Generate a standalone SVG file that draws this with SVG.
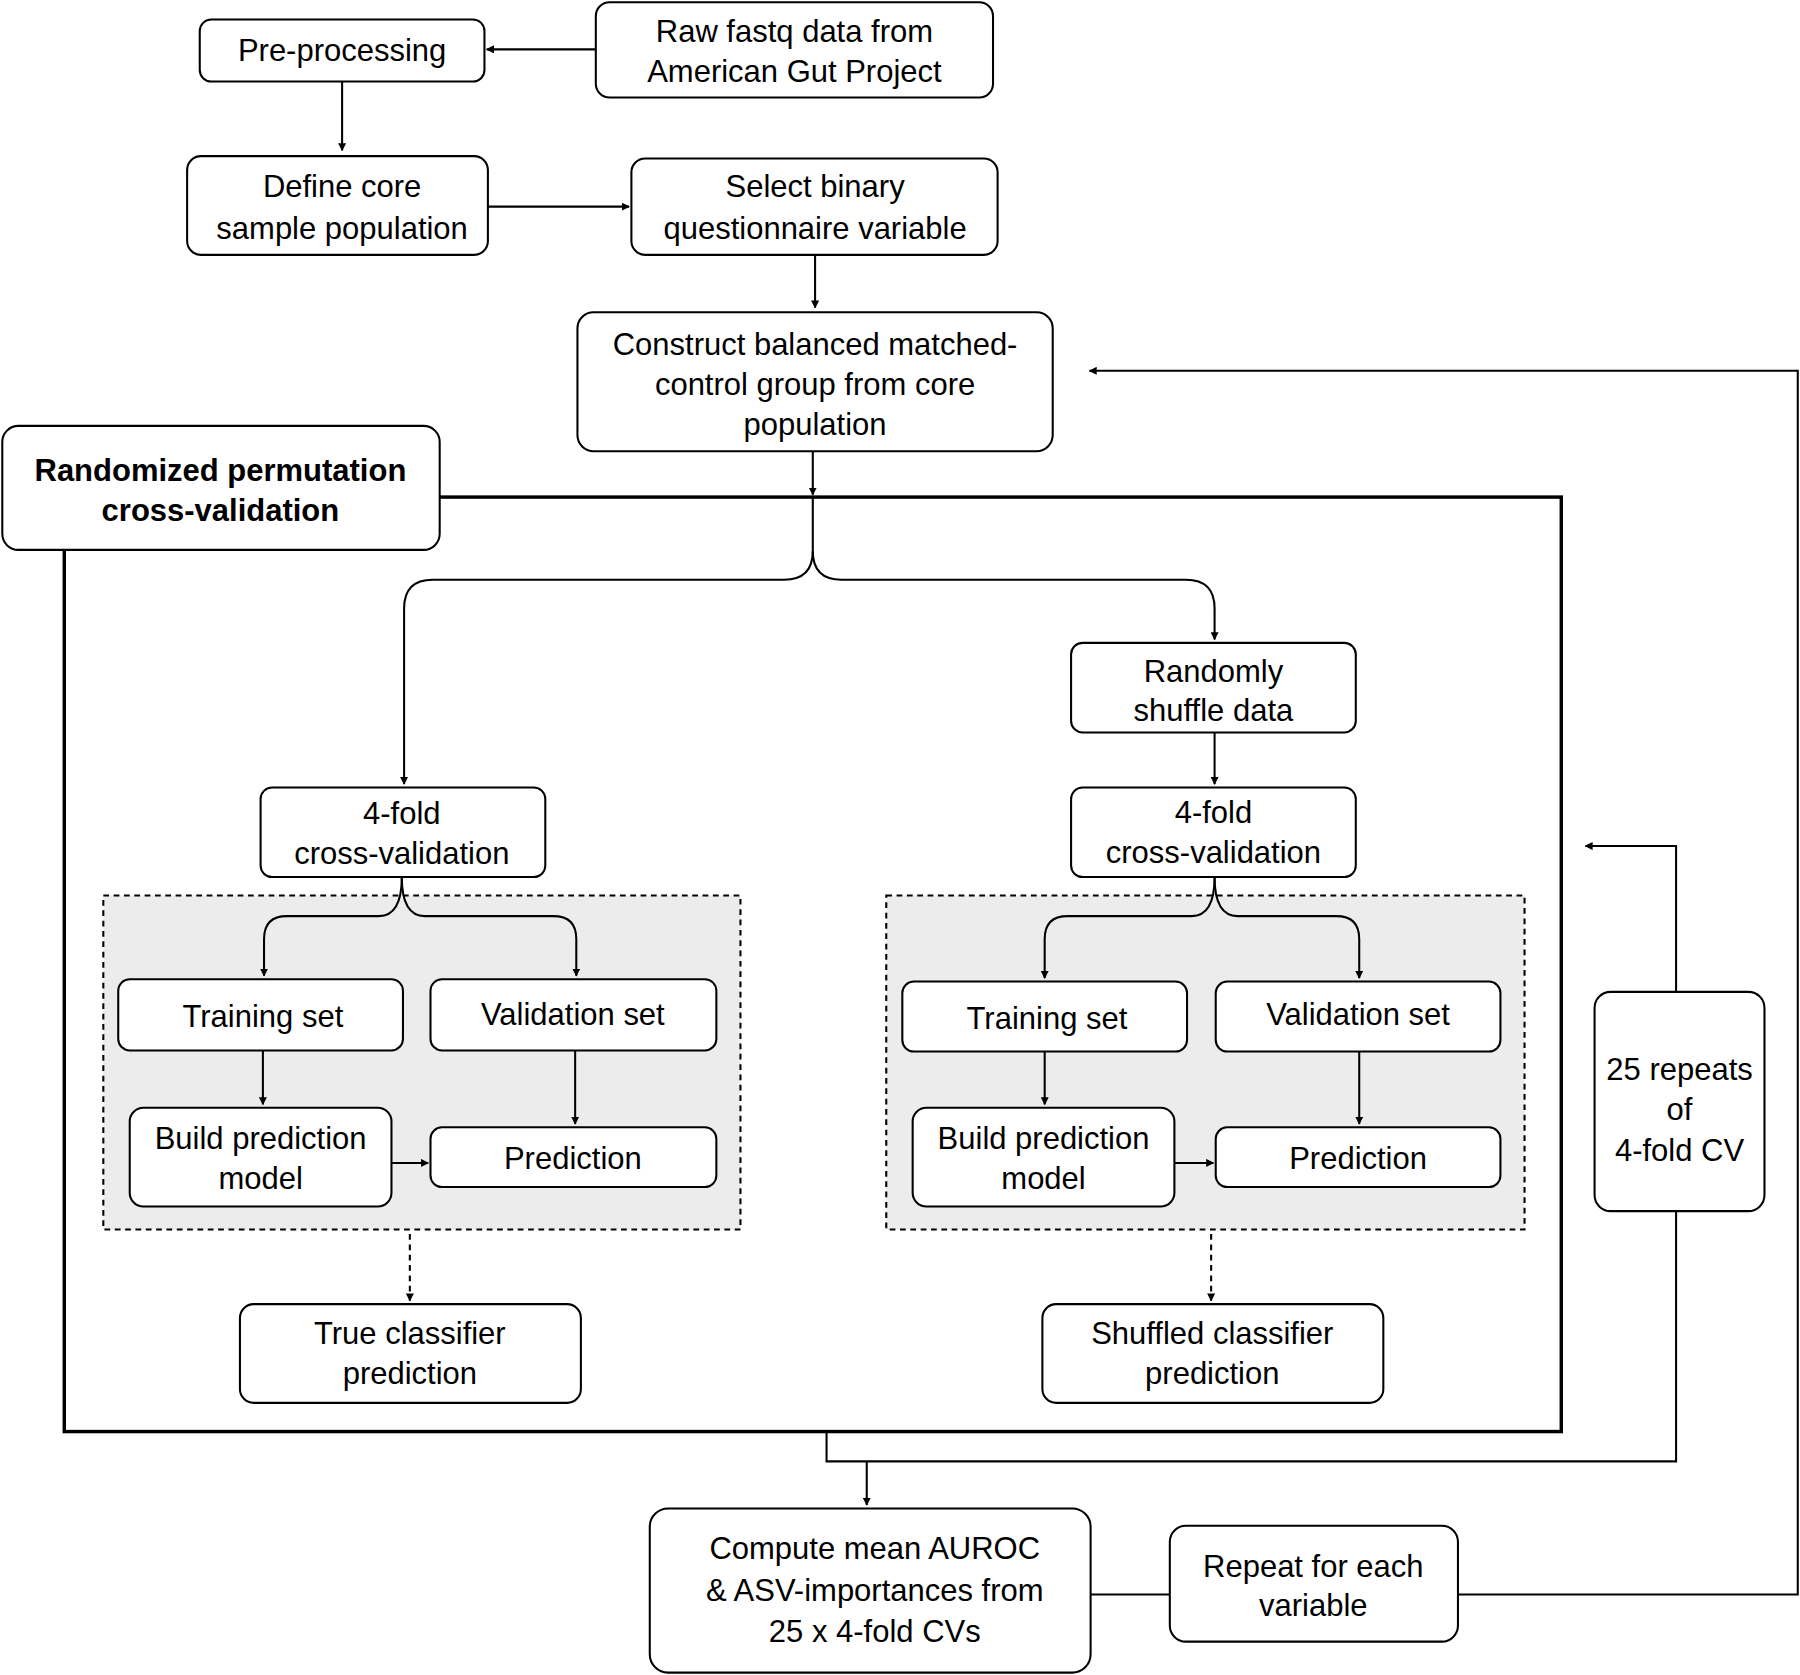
<svg xmlns="http://www.w3.org/2000/svg" width="1800" height="1675" viewBox="0 0 1800 1675">
<defs>
<marker id="ah" viewBox="0 0 10 10" refX="9" refY="5" markerWidth="7" markerHeight="7" orient="auto" markerUnits="userSpaceOnUse"><path d="M0,0 L10,5 L0,10 z" fill="#000"/></marker>
<style>
.n{fill:#fff;stroke:#000;stroke-width:1.8}
.t{font-family:"Liberation Sans",Arial,sans-serif;font-size:27px;text-anchor:middle;fill:#000}
.b{font-weight:bold}
.c{fill:none;stroke:#000;stroke-width:1.8}
.a{marker-end:url(#ah)}
.d{stroke-dasharray:5,4}
.g{fill:#ececec;stroke:#000;stroke-width:1.8;stroke-dasharray:5,4}
</style>
</defs>
<rect width="1800" height="1675" fill="#fff"/>
<g transform="scale(1.148)">
<rect x="56" y="433" width="1304" height="814" fill="none" stroke="#000" stroke-width="3"/>
<rect class="g" x="90" y="780" width="555" height="291"/>
<rect class="g" x="772" y="780" width="556" height="291"/>
<g id="connectors">
<path class="c a" d="M519,43 H424"/>
<path class="c a" d="M298,71 V131"/>
<path class="c a" d="M425,180 H548"/>
<path class="c a" d="M710,222 V268"/>
<path class="c a" d="M708,393 V431"/>
<path class="c a" d="M708,433 V480 Q708,505 683,505 H377 Q352,505 352,530 V683"/>
<path class="c a" d="M708,480 Q708,505 733,505 H1033 Q1058,505 1058,530 V557"/>
<path class="c a" d="M1058,638 V683"/>
<path class="c a" d="M350,764 Q350,798 330,798 H250 Q230,798 230,818 V850"/>
<path class="c a" d="M350,764 Q350,798 370,798 H482 Q502,798 502,818 V850"/>
<path class="c a" d="M1058,764 Q1058,798 1038,798 H930 Q910,798 910,818 V852"/>
<path class="c a" d="M1058,764 Q1058,798 1078,798 H1164 Q1184,798 1184,818 V852"/>
<path class="c a" d="M229,915 V962"/>
<path class="c a" d="M501,915 V979"/>
<path class="c a" d="M341,1013 H373"/>
<path class="c a" d="M910,916 V962"/>
<path class="c a" d="M1184,916 V979"/>
<path class="c a" d="M1023,1013 H1057"/>
<path class="c a d" d="M357,1075 V1133"/>
<path class="c a d" d="M1055,1075 V1133"/>
<path class="c a" d="M1460,864 V737 H1381"/>
<path class="c" d="M1460,1055 V1273 H720 V1247"/>
<path class="c a" d="M755,1273 V1311"/>
<path class="c" d="M950,1389 H1019"/>
<path class="c a" d="M1270,1389 H1566 V323 H949"/>
</g>
<g id="n1"><rect class="n" x="174" y="17" width="248" height="54" rx="10"/><text class="t" x="298" y="53">Pre-processing</text></g>
<g id="n2"><rect class="n" x="519" y="2" width="346" height="83" rx="12"/><text class="t" x="692" y="37">Raw fastq data from</text><text class="t" x="692" y="71">American Gut Project</text></g>
<g id="n3"><rect class="n" x="163" y="136" width="262" height="86" rx="12"/><text class="t" x="298" y="172">Define core</text><text class="t" x="298" y="208">sample population</text></g>
<g id="n4"><rect class="n" x="550" y="138" width="319" height="84" rx="12"/><text class="t" x="710" y="172">Select binary</text><text class="t" x="710" y="208">questionnaire variable</text></g>
<g id="n5"><rect class="n" x="503" y="272" width="414" height="121" rx="14"/><text class="t" x="710" y="309">Construct balanced matched-</text><text class="t" x="710" y="344">control group from core</text><text class="t" x="710" y="379">population</text></g>
<g id="n6"><rect class="n" x="2" y="371" width="381" height="108" rx="14"/><text class="t b" x="192" y="419">Randomized permutation</text><text class="t b" x="192" y="454">cross-validation</text></g>
<g id="n7"><rect class="n" x="933" y="560" width="248" height="78" rx="10"/><text class="t" x="1057" y="594">Randomly</text><text class="t" x="1057" y="628">shuffle data</text></g>
<g id="n8"><rect class="n" x="227" y="686" width="248" height="78" rx="10"/><text class="t" x="350" y="718">4-fold</text><text class="t" x="350" y="753">cross-validation</text></g>
<g id="n9"><rect class="n" x="933" y="686" width="248" height="78" rx="10"/><text class="t" x="1057" y="717">4-fold</text><text class="t" x="1057" y="752">cross-validation</text></g>
<g id="n10"><rect class="n" x="103" y="853" width="248" height="62" rx="10"/><text class="t" x="229" y="895">Training set</text></g>
<g id="n11"><rect class="n" x="375" y="853" width="249" height="62" rx="10"/><text class="t" x="499" y="893">Validation set</text></g>
<g id="n12"><rect class="n" x="113" y="965" width="228" height="86" rx="12"/><text class="t" x="227" y="1001">Build prediction</text><text class="t" x="227" y="1036">model</text></g>
<g id="n13"><rect class="n" x="375" y="982" width="249" height="52" rx="10"/><text class="t" x="499" y="1018">Prediction</text></g>
<g id="n14"><rect class="n" x="786" y="855" width="248" height="61" rx="10"/><text class="t" x="912" y="896">Training set</text></g>
<g id="n15"><rect class="n" x="1059" y="855" width="248" height="61" rx="10"/><text class="t" x="1183" y="893">Validation set</text></g>
<g id="n16"><rect class="n" x="795" y="965" width="228" height="86" rx="12"/><text class="t" x="909" y="1001">Build prediction</text><text class="t" x="909" y="1036">model</text></g>
<g id="n17"><rect class="n" x="1059" y="982" width="248" height="52" rx="10"/><text class="t" x="1183" y="1018">Prediction</text></g>
<g id="n18"><rect class="n" x="209" y="1136" width="297" height="86" rx="12"/><text class="t" x="357" y="1171">True classifier</text><text class="t" x="357" y="1206">prediction</text></g>
<g id="n19"><rect class="n" x="908" y="1136" width="297" height="86" rx="12"/><text class="t" x="1056" y="1171">Shuffled classifier</text><text class="t" x="1056" y="1206">prediction</text></g>
<g id="n20"><rect class="n" x="1389" y="864" width="148" height="191" rx="14"/><text class="t" x="1463" y="941">25 repeats</text><text class="t" x="1463" y="976">of</text><text class="t" x="1463" y="1011">4-fold CV</text></g>
<g id="n21"><rect class="n" x="566" y="1314" width="384" height="143" rx="16"/><text class="t" x="762" y="1358">Compute mean AUROC</text><text class="t" x="762" y="1395">&amp; ASV-importances from</text><text class="t" x="762" y="1430">25 x 4-fold CVs</text></g>
<g id="n22"><rect class="n" x="1019" y="1329" width="251" height="101" rx="14"/><text class="t" x="1144" y="1374">Repeat for each</text><text class="t" x="1144" y="1408">variable</text></g>
</g>
</svg>
